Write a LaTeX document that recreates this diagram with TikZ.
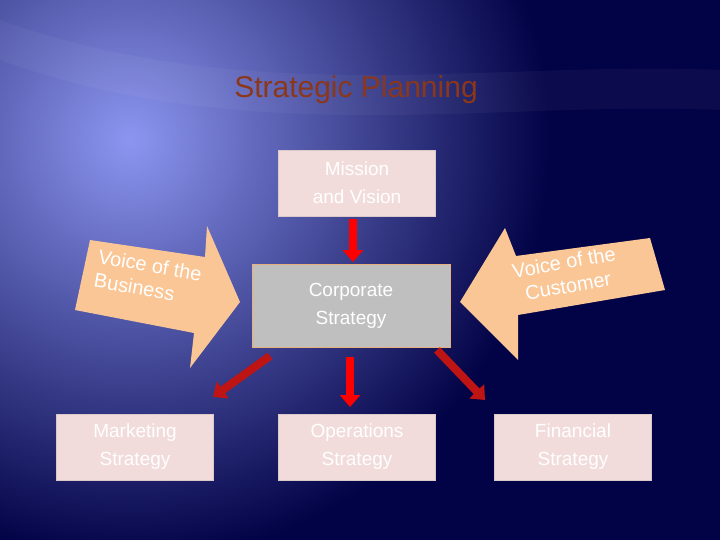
\documentclass[tikz,border=0pt]{standalone}
\usepackage{fontspec}
\setmainfont{Liberation Sans}
\usetikzlibrary{arrows.meta}
\definecolor{bgdark}{RGB}{2,2,70}
\definecolor{bglight}{RGB}{140,150,240}
\definecolor{peach}{RGB}{250,198,150}
\definecolor{pinkbox}{RGB}{242,220,219}
\definecolor{titlec}{RGB}{140,55,25}
\definecolor{darkred}{RGB}{190,20,20}
\tikzset{
  box/.style={draw=pinkbox!80!gray, fill=pinkbox, text=white, font=\fontsize{19}{28}\selectfont, align=center, minimum width=157pt, minimum height=66pt, inner sep=0pt},
  blk/.style={line width=8pt, -{Triangle[width=20pt,length=12pt]}},
  voice/.style={text=white, font=\fontsize{20}{24}\selectfont, align=left}
}
\begin{document}
\begin{tikzpicture}[x=1pt,y=-1pt]
\useasboundingbox (0,0) rectangle (720,540);
\fill[bgdark] (0,0) rectangle (720,540);
\begin{scope}
\clip (0,0) rectangle (720,540);
\shade[inner color=bglight, outer color=bgdark] (130,140) circle (420);
\fill[white, opacity=0.04] (0,20) .. controls (250,110) and (500,60) .. (720,70) -- (720,110) .. controls (500,100) and (250,150) .. (0,60) -- cycle;
\end{scope}
\node[text=titlec, font=\fontsize{30}{34}\selectfont] (title) at (356,90) {Strategic Planning};
\node[box] (mission) at (357,183) {Mission\\and Vision};
\node[box, fill=gray!50, draw=peach!70!brown, minimum width=198pt, minimum height=83pt] (corp) at (351,306) {Corporate\\Strategy};
\node[box] (mkt) at (135,447) {Marketing\\Strategy};
\node[box] (ops) at (357,447) {Operations\\Strategy};
\node[box] (fin) at (573,447) {Financial\\Strategy};
% big arrows
\fill[peach] (90,240) -- (205,257) -- (207,226) -- (240,302) -- (190,368) -- (194,333) -- (75,310) -- cycle;
\fill[peach] (460,302) -- (505,228) -- (516,256) -- (650,238) -- (665,290) -- (518,315) -- (518,360) -- cycle;
\node[voice, rotate=-10] (vb) at (148,277) {Voice of the\\Business};
\node[voice, rotate=10, align=center] (vc) at (566,274) {Voice of the\\Customer};
% connectors
\coordinate (m1) at (353,262);
\draw[blk, red] (mission.south -| m1) ++(0,3) -- (m1);
\coordinate (a1) at (270,356);
\coordinate (a2) at (213,397);
\draw[blk, darkred] (a1) -- (a2);
\coordinate (b1) at (350,357);
\coordinate (b2) at (350,407);
\draw[blk, red] (b1) -- (b2);
\coordinate (c1) at (437,350);
\coordinate (c2) at (485,400);
\draw[blk, darkred] (c1) -- (c2);
\end{tikzpicture}
\end{document}
